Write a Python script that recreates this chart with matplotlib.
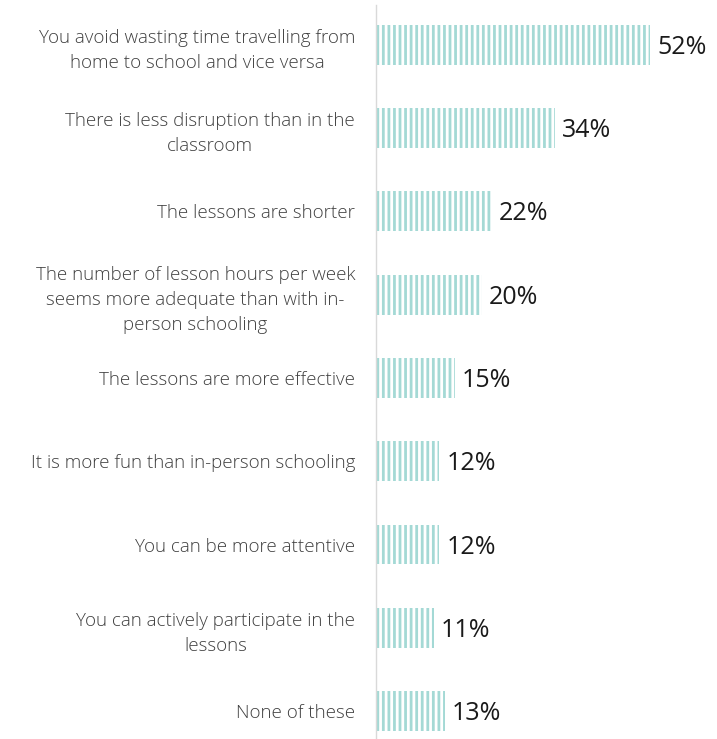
import matplotlib
matplotlib.use("Agg")
import matplotlib.pyplot as plt

categories = [
    "You avoid wasting time travelling from\nhome to school and vice versa",
    "There is less disruption than in the\nclassroom",
    "The lessons are shorter",
    "The number of lesson hours per week\nseems more adequate than with in-\nperson schooling",
    "The lessons are more effective",
    "It is more fun than in-person schooling",
    "You can be more attentive",
    "You can actively participate in the\nlessons",
    "None of these",
]
values = [52, 34, 22, 20, 15, 12, 12, 11, 13]

TEAL = "#a4d9d5"
plt.rcParams["hatch.color"] = "white"
plt.rcParams["hatch.linewidth"] = 2.0

fig = plt.figure(figsize=(7.17, 7.39), dpi=100)
ax = fig.add_axes([376 / 717, 0.0, 341 / 717, 734 / 739])

pos = list(range(len(values)))
ax.barh(pos, values, height=0.48, color=TEAL, hatch="|||", linewidth=0)

for p, v in zip(pos, values):
    ax.text(v + 1.3, p + 0.03, f"{v}%", va="center", ha="left", fontsize=18,
            family="Open Sans", color="#1a1a1a")

ax.set_xlim(0, 64.6)
ax.set_ylim(8.336, -0.48)
ax.set_yticks(pos)
ax.set_yticklabels(categories, fontsize=13.5, family="Open Sans",
                   fontweight="light", color="#404040", linespacing=1.5)
for lab in ax.get_yticklabels():
    lab.set_multialignment("center")
ax.tick_params(axis="y", length=0, pad=15)
ax.set_xticks([])
for s in ["top", "right", "bottom"]:
    ax.spines[s].set_visible(False)
ax.spines["left"].set_color("#d9d9d9")
ax.spines["left"].set_linewidth(1)

fig.savefig("out.png", dpi=100)
